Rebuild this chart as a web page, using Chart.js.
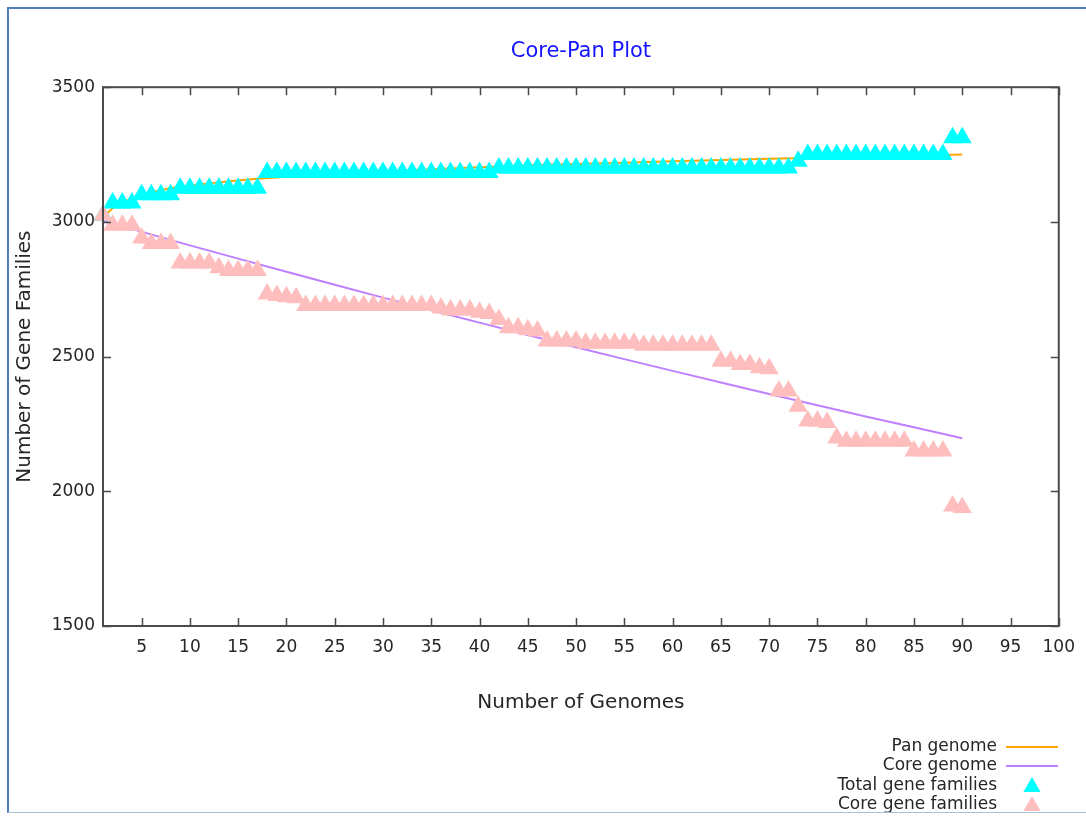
<!DOCTYPE html>
<html>
<head>
<meta charset="utf-8">
<title>Core-Pan Plot</title>
<script src="https://cdn.jsdelivr.net/npm/chart.js@4.4.1/dist/chart.umd.min.js"></script>
<style>
  html, body { margin: 0; padding: 0; background: #fff; }
  #wrap { position: relative; width: 1086px; height: 816px; overflow: hidden; }
  #frame {
    position: absolute; left: 7px; top: 7px; right: -4px; bottom: 3px;
    border-top: 2px solid #4f7fbf; border-left: 2px solid #4f7fbf;
    border-bottom: 1px solid #a9c1de; pointer-events: none;
  }
</style>
</head>
<body>
<div id="wrap">
  <canvas id="chart" width="1086" height="816"></canvas>
  <div id="frame"></div>
</div>
<script>
// number of genomes sampled
const genomes = [
  1, 2, 3, 4, 5, 6, 7, 8, 9, 10,
  11, 12, 13, 14, 15, 16, 17, 18, 19, 20,
  21, 22, 23, 24, 25, 26, 27, 28, 29, 30,
  31, 32, 33, 34, 35, 36, 37, 38, 39, 40,
  41, 42, 43, 44, 45, 46, 47, 48, 49, 50,
  51, 52, 53, 54, 55, 56, 57, 58, 59, 60,
  61, 62, 63, 64, 65, 66, 67, 68, 69, 70,
  71, 72, 73, 74, 75, 76, 77, 78, 79, 80,
  81, 82, 83, 84, 85, 86, 87, 88, 89, 90
];

// total gene families (cyan triangles)
const totalFamilies = [
  3025, 3070, 3070, 3070, 3101, 3101, 3101, 3101, 3125, 3125,
  3125, 3125, 3125, 3125, 3125, 3125, 3125, 3183, 3183, 3183,
  3183, 3183, 3183, 3183, 3183, 3183, 3183, 3183, 3183, 3183,
  3183, 3183, 3183, 3183, 3183, 3183, 3183, 3183, 3183, 3183,
  3183, 3200, 3200, 3200, 3200, 3200, 3200, 3200, 3200, 3200,
  3200, 3200, 3200, 3200, 3200, 3200, 3200, 3200, 3200, 3200,
  3200, 3200, 3200, 3200, 3200, 3200, 3200, 3200, 3200, 3200,
  3200, 3200, 3225, 3250, 3250, 3250, 3250, 3250, 3250, 3250,
  3250, 3250, 3250, 3250, 3250, 3250, 3250, 3250, 3312, 3312
];

// core gene families (pink triangles)
const coreFamilies = [
  3025, 2988, 2988, 2988, 2940, 2920, 2920, 2920, 2847, 2847,
  2847, 2847, 2830, 2820, 2820, 2820, 2820, 2732, 2727, 2722,
  2718, 2690, 2690, 2690, 2690, 2690, 2690, 2690, 2690, 2690,
  2690, 2690, 2690, 2690, 2690, 2680, 2673, 2673, 2673, 2665,
  2660, 2638, 2607, 2607, 2600, 2595, 2558, 2558, 2558, 2558,
  2550, 2550, 2550, 2550, 2550, 2550, 2542, 2542, 2542, 2542,
  2542, 2542, 2542, 2542, 2483, 2483, 2471, 2471, 2459, 2455,
  2372, 2372, 2316, 2261, 2261, 2255, 2198, 2186, 2186, 2186,
  2186, 2186, 2186, 2186, 2150, 2150, 2150, 2150, 1945, 1940
];

// fitted curves
const panX = [1, 2, 3, 5, 8, 12, 17, 25, 35, 45, 55, 65, 75, 90];
const panY = [3015, 3051, 3072, 3100, 3125, 3143, 3160, 3180, 3195, 3210, 3220, 3230, 3238, 3250];
const coreX = [1, 10, 20, 30, 40, 50, 60, 70, 80, 90];
const coreY = [3004, 2913, 2815, 2719, 2626, 2535, 2447, 2361, 2278, 2197];

const xTicks = [5, 10, 15, 20, 25, 30, 35, 40, 45, 50, 55, 60, 65, 70, 75, 80, 85, 90, 95, 100];
const yTicks = [1500, 2000, 2500, 3000, 3500];

const font = 'DejaVu Sans';
const textColor = '#262626';

const pts = (xs, ys) => xs.map((x, i) => ({ x: x, y: ys[i] }));

// gnuplot-like frame, inward ticks on all four sides and key at the bottom right
const gnuplotFrame = {
  id: 'gnuplotFrame',
  afterDatasetsDraw(chart) {
    const { ctx, chartArea: a, scales: { x, y } } = chart;
    ctx.save();
    ctx.strokeStyle = '#4a4a4a';
    ctx.lineWidth = 2;
    ctx.strokeRect(a.left, a.top, a.right - a.left, a.bottom - a.top);
    ctx.lineWidth = 1.5;
    ctx.beginPath();
    xTicks.forEach(v => {
      const px = Math.round(x.getPixelForValue(v)) + 0.5;
      ctx.moveTo(px, a.bottom); ctx.lineTo(px, a.bottom - 8);
      ctx.moveTo(px, a.top); ctx.lineTo(px, a.top + 8);
    });
    yTicks.forEach(v => {
      const py = Math.round(y.getPixelForValue(v)) + 0.5;
      ctx.moveTo(a.left, py); ctx.lineTo(a.left + 8, py);
      ctx.moveTo(a.right, py); ctx.lineTo(a.right - 8, py);
    });
    ctx.stroke();

    // key
    const rows = [747, 766, 786, 805];
    const ds = chart.data.datasets.slice().reverse();
    ctx.font = '17px "' + font + '"';
    ctx.textAlign = 'right';
    ctx.textBaseline = 'middle';
    ds.forEach((d, i) => {
      const ry = rows[i];
      ctx.fillStyle = textColor;
      ctx.fillText(d.label, 997, ry);
      if (d.showLine) {
        ctx.strokeStyle = d.borderColor;
        ctx.lineWidth = 2;
        ctx.beginPath();
        ctx.moveTo(1006, ry); ctx.lineTo(1058, ry);
        ctx.stroke();
      } else {
        const r = 10, cx = 1032, cy = ry + 1;
        ctx.fillStyle = d.backgroundColor;
        ctx.beginPath();
        ctx.moveTo(cx, cy - r);
        ctx.lineTo(cx + r * 0.866, cy + r / 2);
        ctx.lineTo(cx - r * 0.866, cy + r / 2);
        ctx.closePath();
        ctx.fill();
      }
    });
    ctx.restore();
  }
};

new Chart(document.getElementById('chart'), {
  type: 'scatter',
  data: {
    datasets: [
      {
        label: 'Core gene families',
        data: pts(genomes, coreFamilies),
        pointStyle: 'triangle',
        pointRadius: 11,
        pointBorderWidth: 0,
        backgroundColor: 'rgb(255,190,190)',
        borderColor: 'rgb(255,190,190)',
        clip: false
      },
      {
        label: 'Total gene families',
        data: pts(genomes, totalFamilies),
        pointStyle: 'triangle',
        pointRadius: 11,
        pointBorderWidth: 0,
        backgroundColor: 'rgb(0,255,255)',
        borderColor: 'rgb(0,255,255)',
        clip: false
      },
      {
        label: 'Core genome',
        data: pts(coreX, coreY),
        showLine: true,
        pointRadius: 0,
        borderWidth: 2,
        borderColor: 'rgb(190,128,255)',
        tension: 0.3
      },
      {
        label: 'Pan genome',
        data: pts(panX, panY),
        showLine: true,
        pointRadius: 0,
        borderWidth: 2,
        borderColor: 'rgb(255,165,0)',
        tension: 0.3
      }
    ]
  },
  options: {
    responsive: false,
    animation: false,
    events: [],
    layout: { padding: { left: 0, right: 21, top: 0, bottom: 0 } },
    plugins: {
      legend: { display: false },
      tooltip: { enabled: false },
      title: {
        display: true,
        fullSize: false,
        text: 'Core-Pan Plot',
        color: 'rgb(20,20,255)',
        font: { family: font, size: 21, weight: 'normal' },
        padding: { top: 39, bottom: 23 }
      }
    },
    scales: {
      x: {
        type: 'linear',
        min: 1,
        max: 100,
        afterBuildTicks: s => { s.ticks = xTicks.map(v => ({ value: v })); },
        afterFit: s => { s.height = 190; },
        grid: { display: false, drawTicks: false },
        border: { display: false },
        ticks: {
          padding: 11, maxRotation: 0, autoSkip: false, color: textColor,
          font: { family: font, size: 17 },
          callback: v => String(v)
        },
        title: {
          display: true,
          text: 'Number of Genomes',
          color: textColor,
          font: { family: font, size: 20 },
          padding: { top: 0, bottom: 101 }
        }
      },
      y: {
        min: 1500,
        max: 3500,
        afterBuildTicks: s => { s.ticks = yTicks.map(v => ({ value: v })); },
        afterFit: s => { s.width = 103; },
        grid: { display: false, drawTicks: false },
        border: { display: false },
        ticks: {
          padding: 8, color: textColor,
          font: { family: font, size: 17 },
          callback: v => String(v)
        },
        title: {
          display: true,
          text: 'Number of Gene Families',
          color: textColor,
          font: { family: font, size: 20 },
          padding: { top: 13, bottom: 0 }
        }
      }
    }
  },
  plugins: [gnuplotFrame]
});
</script>
</body>
</html>
